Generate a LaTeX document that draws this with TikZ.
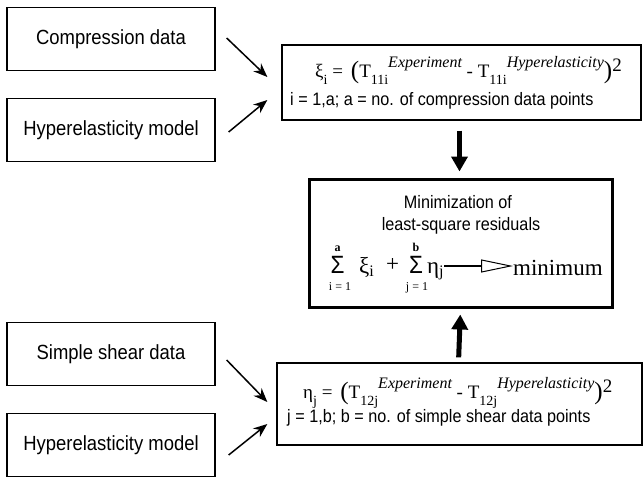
\documentclass[tikz,border=0pt]{standalone}
\usepackage{fontspec}
\setmainfont[FakeStretch=0.9]{Liberation Sans}
\newfontfamily\fser{Liberation Serif}
\usetikzlibrary{arrows.meta}

\newcommand{\lowpart}[1]{\lower7pt\hbox{\fontsize{14}{14}\selectfont #1}}
\newcommand{\highpart}[1]{\raise10pt\hbox{\fontsize{16}{16}\selectfont\itshape #1}}
\newcommand{\bigpar}[1]{\lower1pt\hbox{\fontsize{25}{25}\selectfont #1}}
\newcommand{\sqpart}{\raise6pt\hbox{\fontsize{19}{19}\selectfont 2}}

\begin{document}
\begin{tikzpicture}[x=1pt,y=-1pt,
  databox/.style={draw,line width=1.3pt,minimum width=208pt,minimum height=63pt,inner sep=0pt,font=\fontsize{20.5}{24}\selectfont},
  resbox/.style={draw,line width=1.3pt,inner sep=0pt},
  minbox/.style={draw,line width=3pt,minimum width=303pt,minimum height=128pt,inner sep=0pt},
  formula/.style={anchor=base west,inner sep=0pt,font=\fser\fontsize{19}{22}\selectfont},
  note/.style={anchor=base west,inner sep=0pt,font=\fontsize{18}{20}\selectfont},
  title/.style={anchor=base,inner sep=0pt,font=\fontsize{18}{20}\selectfont},
  sumsign/.style={anchor=base,inner sep=0pt,font=\fontsize{25}{25}\selectfont},
  limit/.style={anchor=base,inner sep=0pt,font=\fser\fontsize{12}{12}\selectfont},
  term/.style={anchor=base west,inner sep=0pt,font=\fser\fontsize{23}{26}\selectfont},
  feed/.style={line width=1.5pt,-{Stealth[length=14pt,width=11pt]}},
  flow/.style={line width=5pt,-{Triangle[length=15pt,width=16pt]}}]
\useasboundingbox (0,0) rectangle (643,480);

% inputs on the left
\node[databox] (comp) at (111,39) {Compression data};
\node[databox] (hypa) at (111,130) {Hyperelasticity model};
\node[databox] (shear) at (111,354) {Simple shear data};
\node[databox] (hypb) at (111,445) {Hyperelasticity model};

% residual boxes
\node[resbox,minimum width=359pt,minimum height=75pt] (xi) at (461.5,82.5) {};
\node[formula] (xiform) at (315,77) {ξ\lowpart{i} = \,\bigpar{(}T\lowpart{11i}\highpart{Experiment} - T\lowpart{11i}\highpart{Hyperelasticity}\bigpar{)}\sqpart};
\node[note] (xinote) at (290,105) {i = 1,a; a = no. of compression data points};

\node[resbox,minimum width=365pt,minimum height=82pt] (eta) at (459.5,404) {};
\node[formula] (etaform) at (303,398) {η\lowpart{j} = \,\bigpar{(}T\lowpart{12j}\highpart{Experiment} - T\lowpart{12j}\highpart{Hyperelasticity}\bigpar{)}\sqpart};
\node[note] (etanote) at (287,422) {j = 1,b; b = no. of simple shear data points};

% minimization
\node[minbox] (mini) at (460.5,243) {};
\node[title] (mtitle) at (458,208) {Minimization of};
\node[title] (msub) at (461,230) {least-square residuals};
\node[sumsign] (sga) at (337.5,273) {Σ};
\node[limit] (sgat) at (337.5,251) {\bfseries a};
\node[limit] (sgab) at (340,290) {i = 1};
\node[term] (xisum) at (359,273) {ξ\textsubscript{i}};
\node[term] (plus) at (386,271) {+};
\node[sumsign] (sgb) at (416,273) {Σ};
\node[limit] (sgbt) at (416,251) {\bfseries b};
\node[limit] (sgbb) at (417,290) {j = 1};
\node[term] (etasum) at (427,273) {η\textsubscript{j}};
\node[term] (minword) at (513,275) {minimum};
\draw[line width=1.3pt,-{Triangle[open,length=32pt,width=13pt,line width=1pt]}] ([yshift=7pt]etasum.base east) -- ([yshift=9pt]minword.base west);

% connectors
\draw[feed] ([xshift=11pt,yshift=1pt]comp.east) -- ([xshift=-14pt,yshift=5.5pt]xi.west);
\draw[feed] ([xshift=13pt,yshift=-2pt]hypa.east) -- ([xshift=-14pt,yshift=-17.5pt]xi.west);
\draw[feed] ([xshift=11pt,yshift=-6pt]shear.east) -- ([xshift=-9pt,yshift=2pt]eta.west);
\draw[feed] ([xshift=13pt,yshift=-10pt]hypb.east) -- ([xshift=-9pt,yshift=-20pt]eta.west);
\draw[flow,shorten <=10pt,shorten >=6pt] ([xshift=-2pt]xi.south) -- ([xshift=-1pt]mini.north);
\draw[flow,shorten <=5pt,shorten >=6pt] ([xshift=-1pt]eta.north) -- (mini.south);
\end{tikzpicture}
\end{document}
